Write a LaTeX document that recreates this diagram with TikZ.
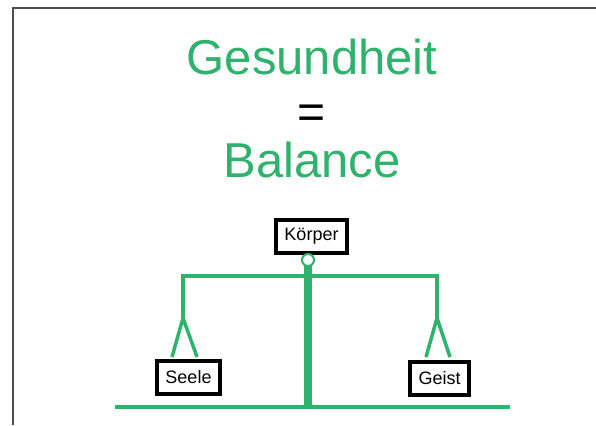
\documentclass[tikz,border=0pt]{standalone}
\usepackage{fontspec}
\setmainfont{Liberation Sans}
\usepackage{tikz}
\definecolor{balgreen}{RGB}{46,178,108}

\begin{document}
\begin{tikzpicture}[x=1pt,y=-1pt,
    part/.style={draw=black,line width=4pt,fill=white,inner sep=0pt,
      minimum height=33pt,font=\fontsize{18}{20}\selectfont},
    bar/.style={balgreen,line width=4pt},
    headline/.style={balgreen,anchor=base,font=\fontsize{49}{52}\selectfont}]
  \useasboundingbox (0,0) rectangle (596,425);
  % frame
  \draw[gray!60!black,line width=1.5pt] (13,425)--(13,8)--(596,8);
  % title
  \node[headline] (gesund) at (312,75) {Gesundheit};
  \node[font=\fontsize{48}{50}\selectfont] (equal) at (312,117) {=};
  \node[headline] (balance) at (312,177) {Balance};
  % the scale
  \coordinate (beamL) at (183,276);
  \coordinate (beamR) at (437,276);
  \coordinate (splitL) at (183,318);
  \coordinate (splitR) at (437,318);
  \coordinate (groundL) at (115,407);
  \coordinate (groundR) at (510,407);
  \coordinate (foot) at (308,407);
  \draw[bar] (groundL)--(groundR);
  \draw[bar,line width=8pt] (308,262)--(foot);
  \draw[bar,line cap=rect] (splitL)--(beamL)--(beamR)--(splitR);
  \node[part,minimum width=71pt] (koerper) at (311.5,236) {Körper};
  \node[part,minimum width=63pt] (seele) at (188.5,377) {Seele};
  \node[part,minimum width=59pt] (geist) at (439.5,378) {Geist};
  \draw[balgreen,line width=2pt,fill=white] (308,260) circle (6);
  \draw[bar,line width=3.5pt] (172,357)--(splitL)--(197,357);
  \draw[bar,line width=3.5pt] (426,357)--(splitR)--(450,357);
\end{tikzpicture}
\end{document}
